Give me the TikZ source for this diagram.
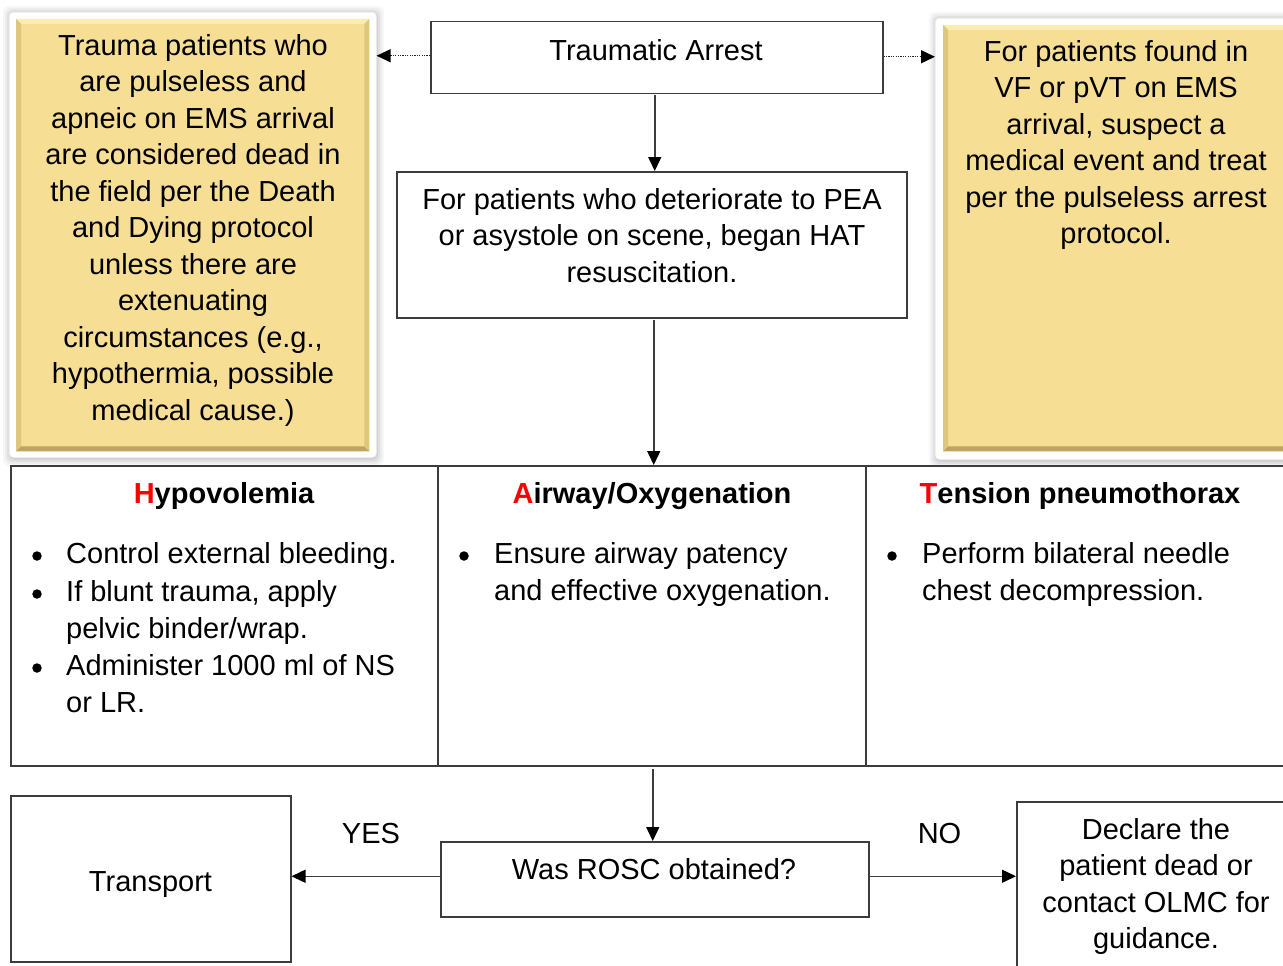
\documentclass[tikz,border=0pt]{standalone}
\usepackage{fontspec}
\setmainfont{Liberation Sans}
\usetikzlibrary{arrows.meta,calc}
\newcommand\mlc[1]{\begin{tabular}[t]{@{}c@{}}#1\end{tabular}}
\newcommand\mll[1]{\begin{tabular}[t]{@{}l@{}}#1\end{tabular}}
\definecolor{ylw}{RGB}{246,222,148}
\definecolor{ylwlt}{RGB}{251,236,176}
\definecolor{ylwdk}{RGB}{190,165,95}
\definecolor{ylwmd}{RGB}{222,198,124}
\definecolor{edge}{RGB}{60,60,60}
\definecolor{hred}{RGB}{255,0,0}
\newcommand\ybevel[1]{%
 \fill[ylwlt] (#1.north west) -- (#1.north east) -- ($(#1.north east)+(-5,5)$) -- ($(#1.north west)+(5,5)$) -- cycle;
 \fill[ylwdk] (#1.south west) -- (#1.south east) -- ($(#1.south east)+(-5,-5)$) -- ($(#1.south west)+(5,-5)$) -- cycle;
 \fill[ylwmd] (#1.north west) -- ($(#1.north west)+(5,5)$) -- ($(#1.south west)+(5,-5)$) -- (#1.south west) -- cycle;
 \fill[ylwmd] (#1.north east) -- ($(#1.north east)+(-5,5)$) -- ($(#1.south east)+(-5,-5)$) -- (#1.south east) -- cycle;
}
\newcommand\softshadow[2]{%
 \foreach \k/\op in {7/0.03,5/0.04,3/0.05,1/0.06}{%
  \fill[black,opacity=\op,rounded corners=6] ($(#1)+(-\k+1,-\k+1)$) rectangle ($(#2)+(\k+1,\k+2)$);}
}
\begin{document}
\begin{tikzpicture}[x=1pt,y=-1pt,
  txt/.style={font=\fontsize{29}{36.5}\selectfont, inner sep=0pt, anchor=base, text=black},
  itm/.style={font=\fontsize{29}{37.2}\selectfont, inner sep=0pt, anchor=base west, text=black},
  hd/.style={font=\fontsize{29}{36.5}\selectfont\bfseries, inner sep=0pt, anchor=base, text=black},
  box/.style={draw=edge, line width=1.5pt, fill=white, inner sep=0pt, anchor=north west, rectangle},
  frame/.style={fill=white, draw=black!6, line width=0.6pt, rounded corners=4, inner sep=0pt, anchor=north west, rectangle},
  ybox/.style={fill=ylw, inner sep=0pt, anchor=north west, rectangle},
  bul/.style={circle, fill=black, inner sep=0pt, minimum size=9.5pt},
  arr/.style={draw=edge, line width=1.5pt, -{Triangle[length=14pt,width=13pt,color=black]}},
  dotarr/.style={draw=black!85, line width=1.3pt, dash pattern=on 1.2pt off 1.2pt, -{Triangle[length=14pt,width=13pt,color=black]}}
]
\useasboundingbox (0,0) rectangle (1283,966);
\clip (0,0) rectangle (1283,966);
\fill[white] (0,0) rectangle (1283,966);

% ---- yellow side boxes ----
\softshadow{9,12}{376,457}
\node[frame, minimum width=367pt, minimum height=445pt] (lyf) at (9,12) {};
\node[ybox, minimum width=353pt, minimum height=432pt] (lyb) at (16,19) {};
\ybevel{lyb}
\node[txt] (lyT) at (193,55.5) {\mlc{Trauma patients who\\are pulseless and\\apneic on EMS arrival\\are considered dead in\\the field per the Death\\and Dying protocol\\unless there are\\extenuating\\circumstances (e.g.,\\hypothermia, possible\\medical cause.)}};

\softshadow{935,18}{1310,459}
\node[frame, minimum width=375pt, minimum height=441pt] (ryf) at (935,18) {};
\node[ybox, minimum width=370pt, minimum height=426pt] (ryb) at (943,25) {};
\ybevel{ryb}
\node[txt] (ryT) at (1116,61.5) {\mlc{For patients found in\\VF or pVT on EMS\\arrival, suspect a\\medical event and treat\\per the pulseless arrest\\protocol.}};

% ---- top boxes ----
\node[box, minimum width=452pt, minimum height=72pt] (ta) at (430,21) {};
\node[txt] (taT) at (656,60) {Traumatic Arrest};
\node[box, minimum width=510pt, minimum height=146pt] (pea) at (396,171) {};
\node[txt] (peaT) at (652,209) {\mlc{For patients who deteriorate to PEA\\or asystole on scene, began HAT\\resuscitation.}};

% ---- table ----
\node[box, minimum width=1300pt, minimum height=300pt] (tbl) at (10,465) {};
\draw[draw=edge, line width=1.5pt] (438,465) -- (438,765);
\draw[draw=edge, line width=1.5pt] (866,465) -- (866,765);
\node[hd] (h1) at (224,503) {{\color{hred}H}ypovolemia};
\node[hd] (h2) at (652,503) {{\color{hred}A}irway/Oxygenation};
\node[hd] (h3) at (1080,503) {{\color{hred}T}ension pneumothorax};
\node[bul] (b11) at (37,556) {};
\node[itm] (i11) at (66,563) {Control external bleeding.};
\node[bul] (b12) at (37,594) {};
\node[itm] (i12) at (66,601) {\mll{If blunt trauma, apply\\pelvic binder/wrap.}};
\node[bul] (b13) at (37,668) {};
\node[itm] (i13) at (66,675) {\mll{Administer 1000 ml of NS\\or LR.}};
\node[bul] (b21) at (464,556) {};
\node[itm] (i21) at (494,563) {\mll{Ensure airway patency\\and effective oxygenation.}};
\node[bul] (b31) at (892,556) {};
\node[itm] (i31) at (922,563) {\mll{Perform bilateral needle\\chest decompression.}};

% ---- bottom ----
\node[box, minimum width=428pt, minimum height=75pt] (rosc) at (440,841) {};
\node[txt] (roscT) at (654,879) {Was ROSC obtained?};
\node[box, minimum width=280pt, minimum height=166pt] (tr) at (10,795) {};
\node[txt] (trT) at (150.5,891) {Transport};
\node[box, minimum width=300pt, minimum height=200pt] (dec) at (1016,801) {};
\node[txt] (decT) at (1156,839) {\mlc{Declare the\\patient dead or\\contact OLMC for\\guidance.}};
\node[txt] (yes) at (371,843) {YES};
\node[txt] (no) at (939.5,843) {NO};

% ---- connectors ----
\draw[dotarr] ($(ta.west)+(0,-2)$) -- ($(ta.west -| lyf.east)+(0,-2)$);
\draw[dotarr] ($(ta.east)+(0,-1)$) -- ($(ta.east -| ryf.west)+(0,-1)$);
\draw[arr] ($(ta.south)+(-2,1)$) -- ($(ta.south |- pea.north)+(-2,0)$);
\draw[arr] ($(pea.south)+(2,1)$) -- ($(pea.south |- tbl.north)+(2,0)$);
\draw[arr] ($(rosc.north |- tbl.south)+(-2,2)$) -- ($(rosc.north)+(-2,0)$);
\draw[arr] ($(rosc.west)+(0,-3)$) -- ($(rosc.west -| tr.east)+(0,-3)$);
\draw[arr] ($(rosc.east)+(0,-3)$) -- ($(rosc.east -| dec.west)+(0,-3)$);
\end{tikzpicture}
\end{document}
